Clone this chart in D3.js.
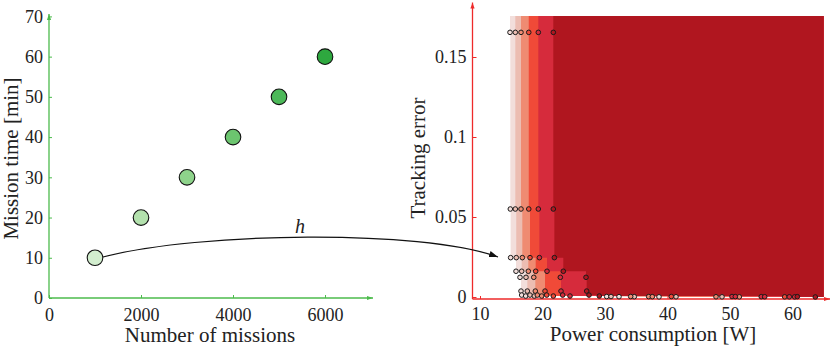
<!DOCTYPE html>
<html lang="en">
<meta charset="utf-8">
<style>
body { margin: 0; background: #fff; }
svg text { font-family: "Liberation Serif", "Times New Roman", serif; fill: #222; }
.tick text { font-size: 18px; }
.title { font-size: 21px; }
</style>
<body>
<div id="chart"></div>
<script src="https://cdn.jsdelivr.net/npm/d3@7"></script>
<script>
"use strict";

// left panel: mission count vs time
const missions = [1000, 2000, 3000, 4000, 5000, 6000];
const missionTime = [10, 20, 30, 40, 50, 60];
const leftXTicks = [0, 2000, 4000, 6000];
const leftYTicks = [0, 10, 20, 30, 40, 50, 60, 70];

// right panel: one attainment front per mission count, [power W, tracking error]
const front1 = [[14.8,0.1654],[14.85,0.055],[14.9,0.0246],[15.76,0.0161],[16.4,0.0123],[16.56,0.0037],[16.67,0.0012],[17.31,0.0006],[30.27,0.0003],[32.24,0.0002],[38.64,0.0001]];
const front2 = [[15.65,0.1654],[15.65,0.055],[15.8,0.0246],[16.67,0.0161],[17.36,0.0123],[17.57,0.0037],[18.0,0.0012],[18.69,0.0006],[30.96,0.0003],[34.69,0.0002],[41.36,0.00015],[48.72,0.0001]];
const front3 = [[16.56,0.1654],[16.56,0.055],[16.77,0.0246],[17.73,0.0161],[18.6,0.0123],[18.85,0.0037],[19.17,0.0012],[19.87,0.0006],[34.11,0.0003],[36.99,0.00025],[37.57,0.0002],[47.76,0.00015],[51.49,0.0001]];
const front4 = [[17.8,0.1654],[17.8,0.055],[18.0,0.0246],[18.91,0.0161],[20.4,0.0037],[20.67,0.0012],[21.73,0.0006],[40.61,0.0003],[58.75,0.0001]];
const front5 = [[19.33,0.1654],[19.33,0.055],[19.5,0.0246],[20.72,0.0161],[22.85,0.0123],[22.96,0.0037],[23.23,0.0012],[24.4,0.0006],[50.32,0.0003],[50.85,0.00025],[55.0,0.0002],[55.55,0.00015],[59.49,0.0001],[60.35,0.00005]];
const front6 = [[21.73,0.1654],[21.73,0.055],[21.9,0.0246],[23.33,0.0161],[26.96,0.0123],[27.07,0.0037],[27.44,0.0012],[29.09,0.0006],[60.77,0.0002],[63.65,0]];
const fronts = [front1, front2, front3, front4, front5, front6];
const rightXTicks = [10, 20, 30, 40, 50, 60];
const rightYTicks = [0, 0.05, 0.1, 0.15];

const greens = ["#d3eecf", "#b3e1ad", "#8ed38b", "#6cc56f", "#4cb959", "#2ea83f"];
const reds = ["#f2dedb", "#ecbdb2", "#ef8b72", "#f04a38", "#d62b3c", "#b0161f"];
const green = "#4cbb4c", red = "#ee2a2a";

const W = 831, H = 350;
const svg = d3.select("#chart").append("svg").attr("width", W).attr("height", H);

const defs = svg.append("defs");
function marker(id, color, size) {
  defs.append("marker").attr("id", id)
    .attr("viewBox", "0 0 10 10").attr("refX", 10).attr("refY", 5)
    .attr("markerUnits", "userSpaceOnUse")
    .attr("markerWidth", size).attr("markerHeight", size)
    .attr("orient", "auto")
    .append("path").attr("d", "M0,1.5 L10,5 L0,8.5 z").attr("fill", color);
}
marker("arrG", green, 6);
marker("arrR", red, 6);
marker("arrK", "#111", 9);

// ---------- left panel ----------
const xL = d3.scaleLinear().domain([0, 7043]).range([49, 373]);
const yL = d3.scaleLinear().domain([0, 70]).range([298, 16.4]);

const left = svg.append("g");

left.append("g").attr("transform", "translate(0," + yL(0) + ")")
  .call(d3.axisBottom(xL).tickValues(leftXTicks).tickFormat(d3.format("d"))
    .tickSizeInner(-3).tickSizeOuter(0).tickPadding(10))
  .call(g => g.select(".domain").remove())
  .call(g => g.selectAll(".tick line").attr("stroke", green));

left.append("g").attr("transform", "translate(" + xL(0) + ",0)")
  .call(d3.axisLeft(yL).tickValues(leftYTicks).tickFormat(d3.format("d"))
    .tickSizeInner(-3).tickSizeOuter(0).tickPadding(6))
  .call(g => g.select(".domain").remove())
  .call(g => g.selectAll(".tick line").attr("stroke", green));

left.selectAll(".tick text").attr("fill", "#222");

left.append("line")
  .attr("x1", xL(0)).attr("y1", yL(0)).attr("x2", xL(7043)).attr("y2", yL(0))
  .attr("stroke", green).attr("stroke-width", 1.3).attr("marker-end", "url(#arrG)");
left.append("line")
  .attr("x1", xL(0)).attr("y1", yL(0)).attr("x2", xL(0)).attr("y2", yL(70.6))
  .attr("stroke", green).attr("stroke-width", 1.3).attr("marker-end", "url(#arrG)");

left.selectAll("circle").data(missions).join("circle")
  .attr("cx", d => xL(d))
  .attr("cy", (d, i) => yL(missionTime[i]))
  .attr("r", 7.8)
  .attr("fill", (d, i) => greens[i])
  .attr("stroke", "#111").attr("stroke-width", 1.1);

left.append("text").attr("class", "title")
  .attr("x", 210).attr("y", 342).attr("text-anchor", "middle")
  .text("Number of missions");
left.append("text").attr("class", "title")
  .attr("transform", "translate(18,158.5) rotate(-90)").attr("text-anchor", "middle")
  .text("Mission time [min]");

// ---------- right panel ----------
const xR = d3.scaleLinear().domain([8.8, 66]).range([472.5, 830]);
const yR = d3.scaleLinear().domain([0, 0.184]).range([297, 2.6]);
const xMax = 65, yTop = 0.1756;

const right = svg.append("g");

const area = d3.area()
  .curve(d3.curveStepAfter)
  .x(d => xR(d[0]))
  .y0(yR(yTop))
  .y1(d => yR(d[1]));

fronts.forEach((f, i) => {
  const pts = f.slice().sort((a, b) => a[0] - b[0]);
  pts.push([xMax, pts[pts.length - 1][1]]);
  right.append("path").attr("d", area(pts)).attr("fill", reds[i]);
});

right.append("g").attr("transform", "translate(0," + (yR(0) + 2) + ")")
  .call(d3.axisBottom(xR).tickValues(rightXTicks).tickFormat(d3.format("d"))
    .tickSizeInner(-3).tickSizeOuter(0).tickPadding(8))
  .call(g => g.select(".domain").remove())
  .call(g => g.selectAll(".tick line").attr("stroke", red));

right.append("g").attr("transform", "translate(" + xR(8.8) + ",0)")
  .call(d3.axisLeft(yR).tickValues(rightYTicks).tickFormat(d => d === 0 ? "0" : String(d))
    .tickSizeInner(-4).tickSizeOuter(0).tickPadding(6))
  .call(g => g.select(".domain").remove())
  .call(g => g.selectAll(".tick line").attr("stroke", red));

right.selectAll(".tick text").attr("fill", "#222");

right.append("line")
  .attr("x1", xR(8.8)).attr("y1", yR(0) + 2).attr("x2", xR(66)).attr("y2", yR(0) + 2)
  .attr("stroke", red).attr("stroke-width", 1.3).attr("marker-end", "url(#arrR)");
right.append("line")
  .attr("x1", xR(8.8)).attr("y1", yR(0) + 2).attr("x2", xR(8.8)).attr("y2", yR(0.184))
  .attr("stroke", red).attr("stroke-width", 1.3).attr("marker-end", "url(#arrR)");

fronts.forEach((f, i) => {
  right.append("g").selectAll("circle").data(f).join("circle")
    .attr("cx", d => xR(d[0]))
    .attr("cy", d => yR(d[1]))
    .attr("r", 2.3)
    .attr("fill", reds[i])
    .attr("stroke", "#1a1a1a").attr("stroke-width", 1);
});

right.append("text").attr("class", "title")
  .attr("x", 653).attr("y", 341).attr("text-anchor", "middle")
  .text("Power consumption [W]");
right.append("text").attr("class", "title")
  .attr("transform", "translate(425,158) rotate(-90)").attr("text-anchor", "middle")
  .text("Tracking error");

// ---------- mapping arrow h ----------
const h = d3.path();
h.moveTo(103, 257);
h.bezierCurveTo(200, 232, 420, 229, 498, 257);
svg.append("path").attr("d", h.toString())
  .attr("fill", "none").attr("stroke", "#111").attr("stroke-width", 1.2)
  .attr("marker-end", "url(#arrK)");
svg.append("text")
  .attr("x", 300).attr("y", 233).attr("text-anchor", "middle")
  .attr("font-style", "italic").attr("font-size", 20)
  .text("h");
</script>
</body>
</html>
